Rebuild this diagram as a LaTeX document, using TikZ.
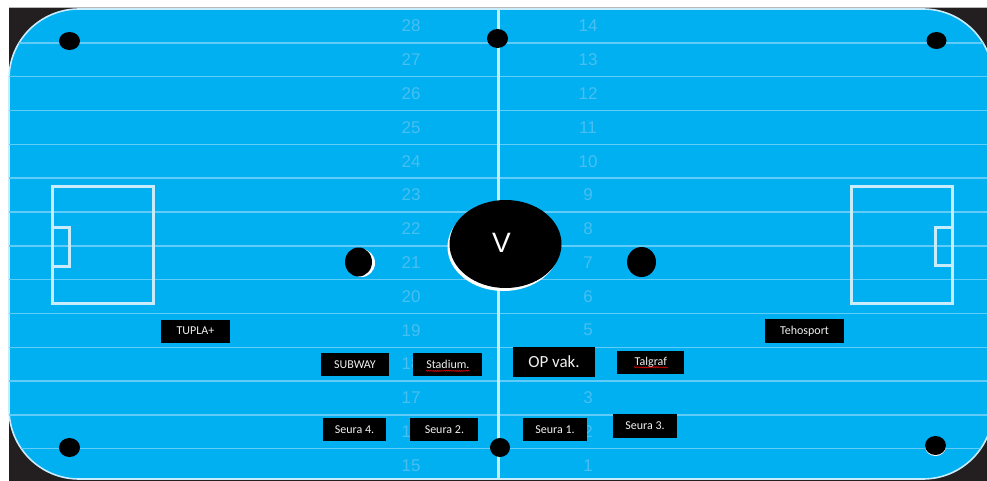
\documentclass[tikz,border=0pt]{standalone}
\usepackage{fontspec}
\setmainfont{Carlito}
\newfontfamily\rinkfont{Liberation Sans}
\usepackage{tikz}
\usetikzlibrary{shapes.geometric,positioning,calc,decorations.pathmorphing}
\definecolor{RinkBlue}{RGB}{0, 176, 240}
\definecolor{RinkLine}{RGB}{96, 204, 247}
\definecolor{RinkWhite}{RGB}{200, 236, 251}
\definecolor{RowNumber}{RGB}{72, 191, 240}
\definecolor{DarkBack}{RGB}{35, 31, 32}

\begin{document}
\begin{tikzpicture}[
    x=1pt, y=-1pt,
    sponsor/.style={draw=none, rectangle, fill=black, text=white!94!black, minimum height=23pt, inner sep=0pt, align=center, font=\fontsize{12}{14}\selectfont},
    bigsponsor/.style={sponsor, minimum width=82pt, minimum height=30pt, font=\fontsize{17}{20}\selectfont},
    rownum/.style={text=RowNumber, inner sep=0pt, font=\rinkfont\fontsize{17}{20}\selectfont},
    crease/.style={draw=RinkWhite, line width=3pt},
    spell/.style={red!85!black, line width=0.6pt, decorate, decoration={snake, amplitude=0.6pt, segment length=2.2pt}},
  ]
    \useasboundingbox (0,0) rectangle (987,481);
    \fill[white] (0,0) rectangle (987,481);
    \fill[DarkBack] (9,8) rectangle (987,481);
    \draw[gray!55, line width=1pt] (9,8) -- (987,8);

    \draw[RinkWhite, line width=1.6pt, fill=RinkBlue, rounded corners=70pt] (9,9) rectangle (993,479);
    \begin{scope}
      \clip[rounded corners=70pt] (9,9) rectangle (993,479);
      \foreach \k in {0,...,12}
        \draw[RinkLine, line width=1.4pt] (9,{43+33.8*\k}) -- (993,{43+33.8*\k});
    \end{scope}

    \draw[crease] (52,187) rectangle (153,303);
    \draw[crease] (52,227) rectangle (69,266);
    \draw[crease] (851,187) rectangle (952,303);
    \draw[crease] (935,227) rectangle (952,265);

    \draw[RinkWhite, line width=3pt] (498.5,9) -- (498.5,479);

    \foreach \n in {0,...,13} {
      \pgfmathtruncatemacro\lnum{28-\n}
      \pgfmathtruncatemacro\rnum{14-\n}
      \node[rownum] (num\lnum) at (411,{26+33.8*\n}) {\lnum};
      \node[rownum] (num\rnum) at (588,{26+33.8*\n}) {\rnum};
    }

    \fill[black] (69.5,41) ellipse [x radius=10.5, y radius=9];
    \fill[black] (497.5,38.5) ellipse [x radius=10.5, y radius=9.5];
    \fill[black] (936.5,40.5) ellipse [x radius=10, y radius=8.5];
    \fill[black] (69.5,447.5) ellipse [x radius=10.5, y radius=9.5];
    \fill[black] (500,447.5) ellipse [x radius=10, y radius=9.5];
    \fill[white] (935.5,446.5) ellipse [x radius=10.5, y radius=9.5];
    \fill[black] (935.5,445.5) ellipse [x radius=10.5, y radius=9.5];

    \fill[white] (361.5,263) ellipse [x radius=13.5, y radius=14];
    \fill[black] (358.5,262) ellipse [x radius=13.5, y radius=14.5];
    \fill[black] (641.5,262) ellipse [x radius=14.5, y radius=15];

    \fill[white] (503.5,247) ellipse [x radius=56, y radius=44];
    \node[ellipse, fill=black, minimum width=112pt, minimum height=88pt, inner sep=0pt] (vspot) at (505.5,244) {};
    \node[text=white, inner sep=0pt, font=\rinkfont\fontsize{28}{30}\selectfont] (vlabel) at (501.5,243) {V};

    \node[sponsor, minimum width=69pt] (tupla) at (195.5,331) {TUPLA+};
    \node[sponsor, minimum width=79pt, minimum height=24pt] (tehosport) at (804.5,331) {Tehosport};

    \node[sponsor, minimum width=68pt] (subway) at (355,364.5) {SUBWAY};
    \node[sponsor, minimum width=69pt, right=24pt of subway] (stadium) {Stadium.};
    \node[bigsponsor] (opvak) at (554,362) {OP vak.};
    \node[sponsor, minimum width=67pt, right=22pt of opvak] (talgraf) {Talgraf};

    \node[sponsor, minimum width=63pt] (seura4) at (354.5,429.5) {Seura 4.};
    \node[sponsor, minimum width=68pt, right=24pt of seura4] (seura2) {Seura 2.};
    \node[sponsor, minimum width=64pt] (seura1) at (555,429.5) {Seura 1.};
    \node[sponsor, minimum width=64pt, minimum height=24pt] (seura3) at (645,426) {Seura 3.};

    \draw[spell] ([xshift=-22pt, yshift=-2.2pt]stadium.base) -- ([xshift=22pt, yshift=-2.2pt]stadium.base);
    \draw[spell] ([xshift=-17pt, yshift=-2.2pt]talgraf.base) -- ([xshift=17pt, yshift=-2.2pt]talgraf.base);
  \end{tikzpicture}
\end{document}
